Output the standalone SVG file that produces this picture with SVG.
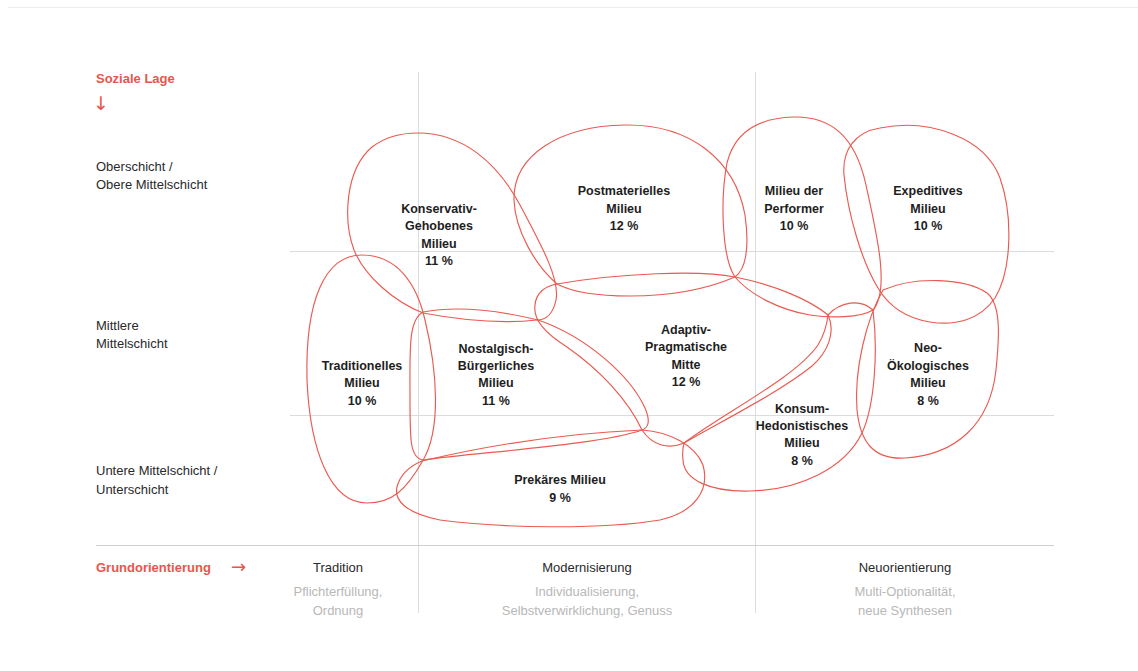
<svg xmlns="http://www.w3.org/2000/svg" width="1138" height="671" viewBox="0 0 1138 671">
  <style>
    .grid { stroke: #dcdcdc; stroke-width: 1; fill: none; }
    .axis { stroke: #cfcfcf; stroke-width: 1.2; fill: none; }
    .blob { fill: none; stroke: #ea5a50; stroke-width: 1.15; }
    .lbl { font-family: "Liberation Sans", Arial, sans-serif; font-size: 12.5px; font-weight: bold; fill: #1e1e1e; text-anchor: middle; }
    .side { font-family: "Liberation Sans", Arial, sans-serif; font-size: 13px; fill: #2a2a2a; }
    .head { font-family: "Liberation Sans", Arial, sans-serif; font-size: 13px; font-weight: bold; fill: #e9554c; }
    .arrow { font-family: "DejaVu Sans", sans-serif; fill: #e9554c; }
    .col { font-family: "Liberation Sans", Arial, sans-serif; font-size: 13px; fill: #2a2a2a; text-anchor: middle; }
    .sub { font-family: "Liberation Sans", Arial, sans-serif; font-size: 13px; fill: #b8b8b8; text-anchor: middle; }
  </style>

  <rect width="1138" height="671" fill="#ffffff"/>
  <line x1="8" y1="7.5" x2="1138" y2="7.5" stroke="#ececec" stroke-width="1"/>

  <!-- grid -->
  <g id="grid">
    <line class="grid" x1="418.5" y1="72" x2="418.5" y2="613"/>
    <line class="grid" x1="755.5" y1="72" x2="755.5" y2="613"/>
    <line class="grid" x1="290" y1="251.5" x2="1054" y2="251.5"/>
    <line class="grid" x1="290" y1="415.5" x2="1054" y2="415.5"/>
    <line class="axis" x1="96" y1="545.5" x2="1054" y2="545.5"/>
  </g>

  <!-- vertical axis: social position -->
  <g id="axis-y">
    <text class="head" x="96" y="83">Soziale Lage</text>
    <text class="arrow" x="93" y="110" font-size="19">↓</text>
    <text class="side" x="96" y="171">Oberschicht /</text>
    <text class="side" x="96" y="189">Obere Mittelschicht</text>
    <text class="side" x="96" y="330">Mittlere</text>
    <text class="side" x="96" y="348">Mittelschicht</text>
    <text class="side" x="96" y="475">Untere Mittelschicht /</text>
    <text class="side" x="96" y="494">Unterschicht</text>
  </g>

  <!-- horizontal axis: basic orientation -->
  <g id="axis-x">
    <text class="head" x="96" y="572">Grundorientierung</text>
    <text class="arrow" x="231" y="573" font-size="18">→</text>
    <text class="col" x="338" y="572">Tradition</text>
    <text class="sub" x="338" y="596">Pflichterfüllung,</text>
    <text class="sub" x="338" y="615">Ordnung</text>
    <text class="col" x="587" y="572">Modernisierung</text>
    <text class="sub" x="587" y="596">Individualisierung,</text>
    <text class="sub" x="587" y="615">Selbstverwirklichung, Genuss</text>
    <text class="col" x="905" y="572">Neuorientierung</text>
    <text class="sub" x="905" y="596">Multi-Optionalität,</text>
    <text class="sub" x="905" y="615">neue Synthesen</text>
  </g>

  <!-- milieu outlines -->
  <g id="connectors"></g>

  <g id="konservativ-gehobenes">
    <path class="blob" d="M418,133 C462,133 497,162 520,205 C543,248 560,280 556,300 C553,314 546,320 537,320 C500,324 460,320 423,313 C395,302 365,277 354,250 C343,220 345,170 372,147 C385,137 400,133 418,133 Z"/>
    <text class="lbl" x="439" y="212.5">Konservativ-</text>
    <text class="lbl" x="439" y="230">Gehobenes</text>
    <text class="lbl" x="439" y="247.5">Milieu</text>
    <text class="lbl" x="439" y="265">11 %</text>
  </g>

  <g id="postmaterielles">
    <path class="blob" d="M557,284 C535,265 515,230 514,200 C513,155 560,126 625,125 C690,124 735,160 745,215 C750,250 745,270 735,277 C700,292 665,296 630,296 C600,296 572,292 557,284 Z"/>
    <text class="lbl" x="624" y="195">Postmaterielles</text>
    <text class="lbl" x="624" y="212.5">Milieu</text>
    <text class="lbl" x="624" y="230">12 %</text>
  </g>

  <g id="performer">
    <path class="blob" d="M793,117 C830,116 855,135 866,185 C877,235 890,290 873,310 C860,318 830,318 810,315 C780,310 750,295 735,277 C722,258 720,200 727,163 C735,130 760,118 793,117 Z"/>
    <text class="lbl" x="794" y="195">Milieu der</text>
    <text class="lbl" x="794" y="212.5">Performer</text>
    <text class="lbl" x="794" y="230">10 %</text>
  </g>

  <g id="expeditives">
    <path class="blob" d="M880,128 C930,118 985,138 1000,178 C1013,215 1012,270 995,298 C980,320 955,326 930,322 C905,318 888,305 878,288 C862,262 848,215 844,175 C842,150 855,132 880,128 Z"/>
    <text class="lbl" x="928" y="195">Expeditives</text>
    <text class="lbl" x="928" y="212.5">Milieu</text>
    <text class="lbl" x="928" y="230">10 %</text>
  </g>

  <g id="traditionelles">
    <path class="blob" d="M362,255 C398,255 417,285 425,320 C437,370 442,430 422,462 C406,490 392,503 367,503 C330,503 310,450 307,380 C305,300 325,255 362,255 Z"/>
    <text class="lbl" x="362" y="369.5">Traditionelles</text>
    <text class="lbl" x="362" y="387">Milieu</text>
    <text class="lbl" x="362" y="405">10 %</text>
  </g>

  <g id="nostalgisch-buergerliches">
    <path class="blob" d="M423,312 C460,305 505,312 538,320 C585,336 630,375 645,408 C651,422 648,428 642,430 C600,445 480,452 423,460 C410,458 410,440 410,400 C410,350 408,320 423,312 Z"/>
    <text class="lbl" x="496" y="352.5">Nostalgisch-</text>
    <text class="lbl" x="496" y="369.5">Bürgerliches</text>
    <text class="lbl" x="496" y="387">Milieu</text>
    <text class="lbl" x="496" y="405">11 %</text>
  </g>

  <g id="adaptiv-pragmatische">
    <path class="blob" d="M557,284 C620,273 700,270 735,277 C775,285 810,300 828,315 C836,332 828,352 812,366 C780,392 720,422 684,443 C668,450 652,445 642,430 C628,400 600,370 567,347 C545,333 533,320 535,305 C536,293 545,286 557,284 Z"/>
    <text class="lbl" x="686" y="333.5">Adaptiv-</text>
    <text class="lbl" x="686" y="351">Pragmatische</text>
    <text class="lbl" x="686" y="368.5">Mitte</text>
    <text class="lbl" x="686" y="386">12 %</text>
  </g>

  <g id="konsum-hedonistisches">
    <path class="blob" d="M828,315 C840,302 860,298 873,310 C878,350 875,405 862,433 C845,468 800,490 750,491 C710,492 684,480 683,460 C682,452 683,447 684,443 C725,412 795,378 818,345 C824,335 827,324 828,315 Z"/>
    <text class="lbl" x="802" y="412.5">Konsum-</text>
    <text class="lbl" x="802" y="429.5">Hedonistisches</text>
    <text class="lbl" x="802" y="446.5">Milieu</text>
    <text class="lbl" x="802" y="464.5">8 %</text>
  </g>

  <g id="neo-oekologisches">
    <path class="blob" d="M883,290 C915,276 965,278 987,293 C1002,305 999,340 996,370 C990,425 955,455 905,458 C872,460 860,440 857,410 C854,370 866,320 883,290 Z"/>
    <text class="lbl" x="928" y="351.5">Neo-</text>
    <text class="lbl" x="928" y="369.5">Ökologisches</text>
    <text class="lbl" x="928" y="386.5">Milieu</text>
    <text class="lbl" x="928" y="404.5">8 %</text>
  </g>

  <g id="prekaeres">
    <path class="blob" d="M422,461 C490,445 570,433 642,430 C670,432 695,445 703,465 C710,490 695,512 660,520 C600,530 500,528 440,520 C405,513 394,500 397,487 C400,475 410,466 422,461 Z"/>
    <text class="lbl" x="560" y="483.5">Prekäres Milieu</text>
    <text class="lbl" x="560" y="501.5">9 %</text>
  </g>
</svg>
